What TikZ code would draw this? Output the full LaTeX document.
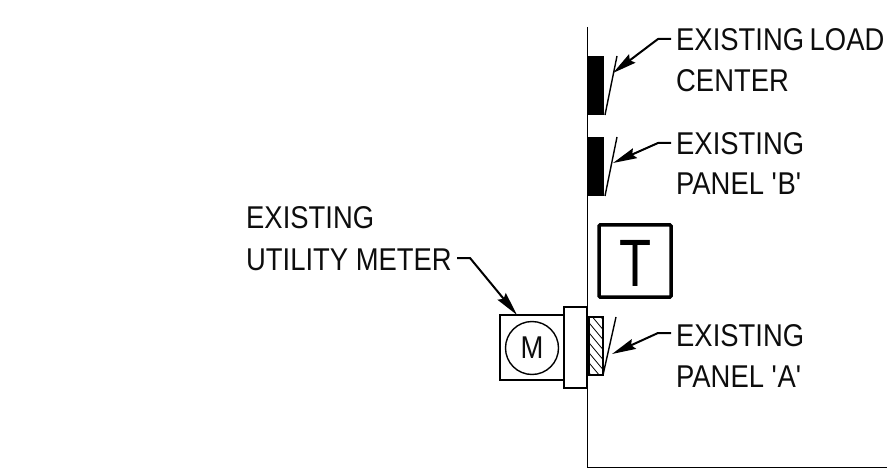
\documentclass[tikz,border=0pt]{standalone}
\usepackage{fontspec}
\setmainfont[FakeStretch=.87]{Liberation Sans}
\usetikzlibrary{arrows.meta}
\tikzset{
 x=1pt,y=-1pt,
 lbl/.style={inner sep=0pt,anchor=base west,font=\fontsize{31.5}{36}\selectfont,text=black!95},
 leader/.style={line width=2pt,line join=round,{Stealth[length=24pt,width=10.5pt,inset=3pt]}-},
 obj/.style={draw,line width=1.4pt,fill=white},
 tick/.style={line width=1.4pt},
 panel/.style={draw,line width=1pt,fill=black}
}
\begin{document}
\begin{tikzpicture}
\useasboundingbox (0,0) rectangle (887,476);
\draw[line width=1pt] (587,27) -- (587,467) -- (887,467);
% panels
\node[panel,minimum width=15pt,minimum height=58pt,inner sep=0pt] (lc) at (596,85.5) {};
\node[panel,minimum width=15pt,minimum height=58pt,inner sep=0pt] (pb) at (596,166.5) {};
\fill[white] (589,317) rectangle (603,375);
\coordinate (pa) at (596,346);
\begin{scope}
\clip (589,317) rectangle (603,375);
\foreach \i in {0,...,8}{\draw[line width=.8pt] (580,{292+\i*10}) -- (610,{328+\i*10});}
\end{scope}
\draw[line width=1.4pt] (589,317) rectangle (603,375);
% ticks
\coordinate (t1a) at (605,115);\coordinate (t1b) at (617,56);
\coordinate (t2a) at (605,196);\coordinate (t2b) at (617,137);
\coordinate (t3a) at (603,375);\coordinate (t3b) at (616,317);
\draw[tick] (t1a) -- (t1b);\draw[tick] (t2a) -- (t2b);\draw[tick] (t3a) -- (t3b);
% thermostat
\node[draw,line width=3.5pt,minimum width=72pt,minimum height=72pt,inner sep=0pt,rounded corners=1pt] (T) at (635,261) {};
\node[inner sep=0pt,anchor=base,font=\fontsize{67}{67}\selectfont] (Tt) at (635.5,286) {\scalebox{.9}[1]{T}};
% meter
\node[obj,minimum width=64pt,minimum height=65pt,inner sep=0pt] (mbox) at (532,347.5) {};
\node[obj,minimum width=23pt,minimum height=81pt,inner sep=0pt] (mcol) at (575.5,347.5) {};
\node[draw,circle,line width=1.4pt,minimum size=53pt,inner sep=0pt,font=\fontsize{31.5}{36}\selectfont,text=black!95] (M) at (532,348) {M};
% labels
\node[lbl] (a) at (676,51) {EXISTING\hspace{-2pt} LOAD};
\node[lbl] (a2) at (676,92) {CENTER};
\node[lbl] (b) at (676,155) {EXISTING};
\node[lbl] (b2) at (676,195) {PANEL \textquotesingle B\textquotesingle};
\node[lbl] (c) at (676,346) {EXISTING};
\node[lbl] (c2) at (676,387) {PANEL \textquotesingle A\textquotesingle};
\node[lbl] (d) at (246,229) {EXISTING};
\node[lbl] (d2) at (246,270) {UTILITY METER};
% leaders
\coordinate (ta) at (613,73);\coordinate (tb) at (613,163);\coordinate (tc) at (612,354);\coordinate (td) at (517,315);
\draw[leader] (ta) -- (658,39) -- (671,39);
\draw[leader] (tb) -- (658,143) -- (671,143);
\draw[leader] (tc) -- (658,333) -- (671,333);
\draw[leader] (td) -- (470,258) -- (457,258);
\end{tikzpicture}
\end{document}
